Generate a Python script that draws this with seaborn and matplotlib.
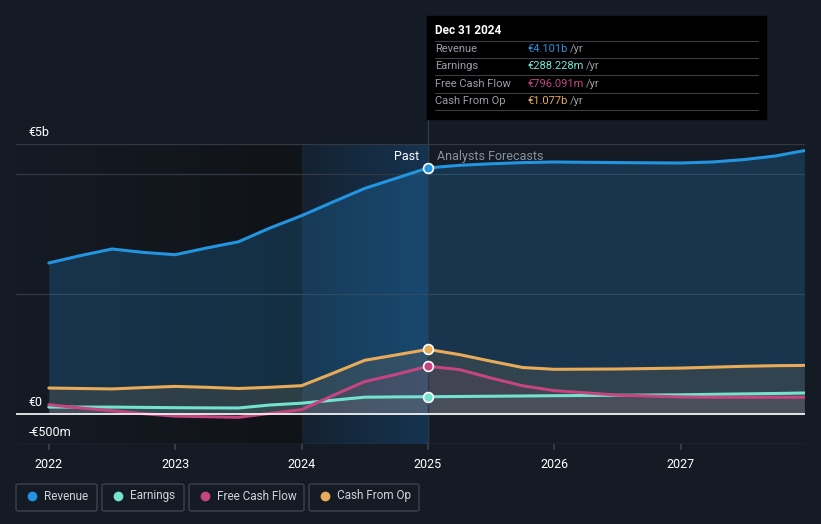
import numpy as np
import pandas as pd
import matplotlib.pyplot as plt
import seaborn as sns
from matplotlib.colors import LinearSegmentedColormap
from matplotlib.patches import FancyBboxPatch, Rectangle

# values in € millions
years = [2022.0, 2022.25, 2022.5, 2022.75, 2023.0, 2023.25, 2023.5, 2023.75,
         2024.0, 2024.25, 2024.5, 2024.75, 2025.0,
         2025.25, 2025.5, 2025.75, 2026.0, 2026.5, 2027.0, 2027.25, 2027.5, 2027.75, 2027.98]
revenue = [2517, 2640, 2750, 2693, 2655, 2767, 2870, 3100,
           3305, 3535, 3760, 3930, 4101,
           4145, 4170, 4190, 4200, 4190, 4183, 4200, 4240, 4300, 4390]
earnings = [115, 115, 115, 110, 105, 102, 100, 150,
            180, 230, 280, 285, 288,
            292, 296, 300, 305, 312, 320, 328, 335, 342, 350]
free_cash_flow = [155, 100, 55, 5, -35, -45, -55, 10,
                  72, 310, 540, 660, 796,
                  740, 600, 470, 390, 315, 285, 280, 280, 280, 280]
cash_from_op = [433, 425, 418, 440, 460, 445, 425, 445,
                472, 680, 895, 985, 1077,
                990, 880, 775, 745, 750, 765, 780, 795, 805, 810]

series_names = ["Revenue", "Earnings", "Free Cash Flow", "Cash From Op"]
colors = ["#2394df", "#73e2cf", "#c4457f", "#e8ab5a"]
tooltip_values = ["€4.101b", "€288.228m", "€796.091m", "€1.077b"]
x_ticks = [2022, 2023, 2024, 2025, 2026, 2027]
y_labels = {4500: "€5b", 0: "€0", -500: "-€500m"}

df = pd.DataFrame({
    "year": years * 4,
    "value": revenue + earnings + free_cash_flow + cash_from_op,
    "series": sum([[n] * len(years) for n in series_names], []),
})

bg = "#151b25"
sns.set_theme(style="dark")
plt.rcParams["font.family"] = ["Roboto", "DejaVu Sans"]

W, H = 821, 524
fig = plt.figure(figsize=(W / 100, H / 100), dpi=100, facecolor=bg)
ax = fig.add_axes([16 / W, 1 - 444 / H, 789 / W, 300 / H])
ax.set_facecolor(bg)
x0, x1 = 2021.74, 2027.985
ax.set_xlim(x0, x1)
ax.set_ylim(-500, 4500)

# background shading: darkening past area, highlighted last year
past_cmap = LinearSegmentedColormap.from_list("past", [bg, "#101317"])
ax.imshow(np.linspace(0, 1, 256).reshape(1, -1), extent=[x0, 2024, -500, 4500],
          cmap=past_cmap, aspect="auto", zorder=0)
band_cmap = LinearSegmentedColormap.from_list("band", ["#142231", "#163350"])
ax.imshow(np.linspace(0, 1, 256).reshape(1, -1), extent=[2024, 2025, -500, 4500],
          cmap=band_cmap, aspect="auto", zorder=0)

# area fills
fills = {"Revenue": 0.22, "Earnings": 0.08, "Free Cash Flow": 0.12, "Cash From Op": 0.12}
for name, c in zip(series_names, colors):
    s = df[df.series == name]
    ax.fill_between(s.year, s.value, 0, color=c, alpha=fills[name], lw=0, zorder=1)

sns.lineplot(data=df, x="year", y="value", hue="series", hue_order=series_names,
             palette=colors, linewidth=2.2, legend=False, ax=ax, zorder=3)

# markers at Dec 31 2024
for name, c in zip(series_names, colors):
    v = df[(df.series == name) & (df.year == 2025.0)].value.iloc[0]
    ax.scatter([2025.0], [v], s=50, color=c, edgecolor="white", linewidth=1.2, zorder=5)

# grid lines
for y in [2000, 4000, 4500]:
    ax.axhline(y, color="#323844", lw=0.9, zorder=0.5)
ax.axhline(-500, color="#3a404b", lw=1, zorder=2)
ax.axhline(0, color="white", lw=1.2, zorder=4)
ax.axvline(2025.0, color="#2b3a4c", lw=1, ymin=0, ymax=1.08, clip_on=False, zorder=2)

for s in ax.spines.values():
    s.set_visible(False)
ax.set_yticks([])
ax.set_xticks(x_ticks)
ax.set_xticklabels([str(t) for t in x_ticks], color="white", fontsize=9)
ax.tick_params(axis="x", length=4, color="#3a404b", bottom=True, pad=6)
ax.set_xlabel("")
ax.set_ylabel("")

for yv, lab in y_labels.items():
    ax.annotate(lab, xy=(0, yv), xycoords=("axes fraction", "data"), xytext=(9, 3.5),
                textcoords="offset points", color="white", fontsize=9, va="bottom")

ax.text(2024.93, 4290, "Past", color="white", fontsize=9, ha="right", va="center")
ax.text(2025.07, 4290, "Analysts Forecasts", color="#8a8f98", fontsize=9, ha="left", va="center")

# tooltip
fig.patches.append(Rectangle((427 / W, 1 - 119 / H), 339 / W, 103 / H,
                             transform=fig.transFigure, color="black", zorder=10))
fig.text(435 / W, 1 - 31 / H, "Dec 31 2024", color="white", fontsize=8.5,
         fontweight="bold", va="center", zorder=11)
row_y = [49, 66, 84, 101]
for i, (name, c, val) in enumerate(zip(series_names, colors, tooltip_values)):
    fig.text(435 / W, 1 - row_y[i] / H, name, color="#9a9ea6", fontsize=8, va="center", zorder=11)
    t = fig.text(527 / W, 1 - row_y[i] / H, val, color=c, fontsize=8, va="center", zorder=11)
    fig.canvas.draw()
    bb = t.get_window_extent()
    fig.text(bb.x1 / W + 3 / W, 1 - row_y[i] / H, "/yr", color="#9a9ea6", fontsize=8,
             va="center", zorder=11)
for ly in [41, 58, 75, 93, 110]:
    fig.add_artist(plt.Line2D([435 / W, 758 / W], [1 - ly / H] * 2, color="#3a3d42",
                              lw=0.8, transform=fig.transFigure, zorder=11))

# legend boxes
boxes = [(16, 97), (102, 184), (189, 304), (309, 419)]
for (bx0, bx1), name, c in zip(boxes, series_names, colors):
    fig.patches.append(FancyBboxPatch((bx0 / W, 1 - 511 / H), (bx1 - bx0) / W, 27 / H,
                                      boxstyle="round,pad=0,rounding_size=0.003",
                                      transform=fig.transFigure, facecolor=bg,
                                      edgecolor="#3c424c", lw=1))
    fig.add_artist(plt.Line2D([(bx0 + 16) / W], [1 - 496 / H], marker="o", ms=6,
                              color=c, transform=fig.transFigure))
    fig.text((bx0 + 28) / W, 1 - 496 / H, name, color="#d0d3d8", fontsize=8.5, va="center")

fig.savefig("out.png", dpi=100, facecolor=bg)
